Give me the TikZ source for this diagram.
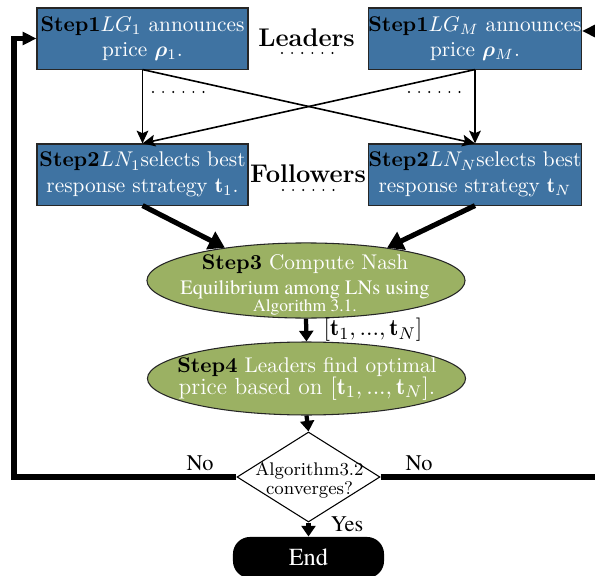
\documentclass[tikz,border=0pt]{standalone}
\usepackage{fontspec}
\usepackage{bm}
\newfontfamily\tms{TeX Gyre Termes}
\usetikzlibrary{arrows.meta,shapes.geometric,calc}
\definecolor{boxblue}{RGB}{63,115,162}
\definecolor{ellgreen}{RGB}{155,177,99}
\newcommand{\stp}[1]{{\color{black}\textbf{#1}}}
\begin{document}
\begin{tikzpicture}[x=0.47pt,y=-0.47pt,
  stepbox/.style={draw=black!85, fill=boxblue, text=white, minimum width=99.2pt, minimum height=28.7pt, inner xsep=0pt, inner ysep=0pt, align=center, line width=0.5pt},
  ell/.style={ellipse, draw=black!85, fill=ellgreen, minimum width=149.5pt, minimum height=35.3pt, inner sep=0pt, line width=0.5pt},
  ethin/.style={line width=0.75pt, -{Stealth[length=6pt,width=5.5pt,inset=1.2pt]}},
  efat/.style={line width=2.4pt, -{Triangle[length=7.5pt,width=9pt]}},
  emid/.style={line width=2pt, -{Triangle[length=5pt,width=6.5pt]}},
  eloop/.style={line width=2.4pt, -{Triangle[length=6.5pt,width=6pt]}},
  lbl/.style={inner sep=0pt, font=\tms\fontsize{10.5}{12}\selectfont},
  dotrow/.style={line width=1pt, line cap=round, dash pattern=on 0pt off 4.75pt},
  ctext/.style={text=white, align=center, inner sep=0pt}
]
\useasboundingbox (0,0) rectangle (595,576);
\clip (0,0) rectangle (595,576);

% leaders and followers boxes
\node[stepbox] (L1) at (142.5,38.5) {\stp{Step1}$LG_1$ announces\\price $\bm{\rho}_1$.};
\node[stepbox] (LM) at (475,38.5) {\stp{Step1}$LG_M$ announces\\price $\bm{\rho}_M$.};
\node[stepbox] (F1) at (142.5,174.5) {\stp{Step2}$LN_1$selects best\\response strategy $\mathbf{t}_1$.};
\node[stepbox] (FN) at (475,174.5) {\stp{Step2}$LN_N$selects best\\response strategy $\mathbf{t}_N$};

\node[font=\large\bfseries, inner sep=0pt] (lead) at (306.5,38) {Leaders};
\node[font=\large\bfseries, inner sep=0pt] (foll) at (308,174) {Followers};
\coordinate (ld1) at (282,53);  \coordinate (ld2) at (334,53);
\coordinate (fd1) at (283,190); \coordinate (fd2) at (335,190);
\coordinate (ad1) at (153,92);  \coordinate (ad2) at (205,92);
\coordinate (bd1) at (409,92);  \coordinate (bd2) at (461,92);
\draw[dotrow] (ld1) -- (ld2);
\draw[dotrow] (fd1) -- (fd2);
\draw[dotrow] (ad1) -- (ad2);
\draw[dotrow] (bd1) -- (bd2);

% ellipses
\node[ell] (s3) at (306,280.5) {};
\node[ctext] (s3t) at (305,285) {\stp{Step3} Compute Nash\\[-0.5pt]{\tms\fontsize{9.6}{11}\selectfont Equilibrium among LNs using}\\[-4pt]{\tms\fontsize{8.2}{9}\selectfont Algorithm 3.1.}};
\node[ell, minimum height=34.3pt] (s4) at (306.5,378.5) {};
\node[ctext] (s4t) at (307,379) {\stp{Step4} Leaders find optimal\\[-2pt]{\fontsize{11}{12}\selectfont price based on $[\mathbf{t}_1,...,\mathbf{t}_N]$.}};

% decision
\node[diamond, draw=black, fill=white, minimum width=67.2pt, minimum height=42.3pt, inner sep=0pt, line width=0.5pt] (dia) at (308.5,477) {};
\node[align=center, inner sep=0pt, font=\fontsize{8.6}{7.2}\selectfont] (diat) at (309.5,480) {Algorithm3.2\\converges?};

\node[fill=black, rounded corners=8pt, minimum width=71pt, minimum height=19.3pt, text=white, font=\tms\fontsize{11.5}{13}\selectfont] (end) at (308.5,557.5) {End};

% labels
\node[lbl] (yes) at (347,524) {Yes};
\node[lbl] (no1) at (200,463.5) {No};
\node[lbl] (no2) at (419,463.5) {No};
\node[inner sep=0pt, font=\fontsize{11}{13}\selectfont] (tv) at (373,330) {$[\mathbf{t}_1,...,\mathbf{t}_N]$};

% connectors
\draw[ethin] (L1.south) -- (F1.north);
\draw[ethin] (L1.south) -- (FN.north);
\draw[ethin] (LM.south) -- (F1.north);
\draw[ethin] (LM.south) -- (FN.north);
\draw[efat] (F1.south) -- (s3.158);
\draw[efat] (FN.south) -- (s3.22);
\draw[emid] (s3.south) -- (s4.north);
\draw[emid] (s4.south) -- (dia.north);
\draw[emid] (dia.south) -- (end.north);

\coordinate (lc) at (14,0);
\coordinate (rc) at (605,31);
\draw[eloop] (dia.west) -- (dia.west -| lc) |- (L1.west);
\draw[eloop] (dia.east) -| (rc) -- (rc -| LM.east);
\end{tikzpicture}
\end{document}
